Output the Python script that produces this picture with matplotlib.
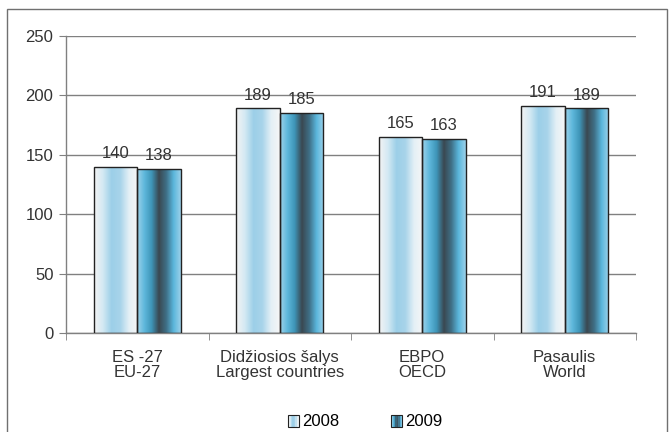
import numpy as np
import matplotlib.pyplot as plt
from matplotlib.patches import Rectangle
from matplotlib.colors import LinearSegmentedColormap
from matplotlib.legend_handler import HandlerBase

plt.rcParams['font.family'] = ['Liberation Sans', 'DejaVu Sans']

categories = ["ES -27\nEU-27", "Didžiosios šalys\nLargest countries", "EBPO\nOECD", "Pasaulis\nWorld"]
years = ["2008", "2009"]
values_2008 = [140, 189, 165, 191]
values_2009 = [138, 185, 163, 189]

# horizontal colour profiles for the two series
cmap_2008 = LinearSegmentedColormap.from_list("c08", ["#f4f4f4", "#d4e9f3", "#9ccfe8", "#a8d4ea", "#e4f0f6", "#f6f6f6"])
cmap_2009 = LinearSegmentedColormap.from_list("c09", ["#9fd3ea", "#5fb8dc", "#3e95b8", "#3a4851", "#3f6f86", "#5ab6dc", "#9dd2ea"])

fs = 12
txt = "#333333"

fig = plt.figure(figsize=(6.69, 4.32), dpi=100)
ax = fig.add_axes([66 / 669, 1 - 333 / 432, 570 / 669, 297 / 432])

x = np.arange(len(categories))
w = 0.305
grad = np.linspace(0, 1, 256).reshape(1, -1)


def gradient_bars(xs, vals, cmap):
    bars = ax.bar(xs, vals, w, facecolor="none", edgecolor="#222222", linewidth=1.0, zorder=3)
    for b in bars:
        x0, y0 = b.get_x(), b.get_y()
        im = ax.imshow(grad, cmap=cmap, aspect="auto", zorder=2,
                       extent=[x0, x0 + b.get_width(), y0, y0 + b.get_height()])
        im.set_clip_path(b)
    return bars


b1 = gradient_bars(x - w / 2, values_2008, cmap_2008)
b2 = gradient_bars(x + w / 2, values_2009, cmap_2009)

for bars, vals in [(b1, values_2008), (b2, values_2009)]:
    for b, v in zip(bars, vals):
        ax.text(b.get_x() + b.get_width() / 2, v + 5, str(v), ha="center", va="bottom",
                fontsize=fs, color=txt)

ax.set_xlim(-0.5, len(categories) - 0.5)
ax.set_ylim(0, 250)
ax.set_yticks(range(0, 251, 50))
ax.yaxis.grid(True, color="#808080", linewidth=1.0, zorder=1)
ax.set_axisbelow(True)

ax.set_xticks(x)
ax.set_xticklabels(categories, fontsize=fs, color=txt, linespacing=1.05)
ax.tick_params(axis="x", which="major", length=0, pad=12)
ax.set_xticks(np.arange(-0.5, len(categories), 1), minor=True)
ax.tick_params(axis="x", which="minor", length=5, color="#808080", direction="out")
ax.tick_params(axis="y", length=5, color="#808080", labelsize=fs, labelcolor=txt, pad=4)

for s in ["top", "right"]:
    ax.spines[s].set_visible(False)
for s in ["left", "bottom"]:
    ax.spines[s].set_color("#808080")
    ax.spines[s].set_linewidth(1.0)


class GradHandler(HandlerBase):
    def __init__(self, cmap):
        super().__init__()
        self.cmap = cmap

    def create_artists(self, legend, orig_handle, xdescent, ydescent, width, height, fontsize, trans):
        n = 8
        side = height * 0.95
        x0 = width - side
        arts = []
        for i in range(n):
            c = self.cmap((i + 0.5) / n)
            arts.append(Rectangle((x0 + i * side / n, -ydescent), side / n, side,
                                  facecolor=c, edgecolor="none", transform=trans))
        arts.append(Rectangle((x0, -ydescent), side, side, facecolor="none",
                              edgecolor="#222222", linewidth=0.8, transform=trans))
        return arts


h1 = Rectangle((0, 0), 1, 1)
h2 = Rectangle((0, 0), 1, 1)
fig.legend([h1, h2], years, loc="center", bbox_to_anchor=(364 / 669, 1 - 422 / 432),
           ncol=2, frameon=False, fontsize=fs, columnspacing=3.0, handlelength=0.8,
           handletextpad=0.15,
           handler_map={h1: GradHandler(cmap_2008), h2: GradHandler(cmap_2009)})

fig.patches.append(Rectangle((7 / 669, -0.05), 660 / 669, 1.05 - 9 / 432, transform=fig.transFigure,
                             facecolor="none", edgecolor="#707070", linewidth=1.0))

fig.savefig("out.png", dpi=100)
